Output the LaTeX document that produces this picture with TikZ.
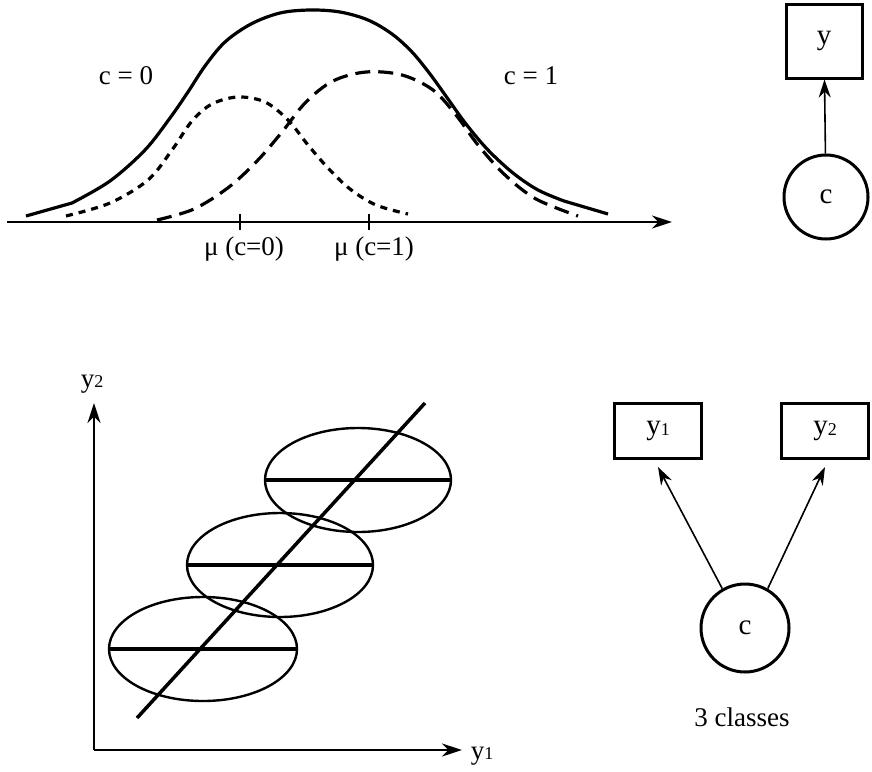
\documentclass[tikz,border=0pt]{standalone}
\usepackage{fontspec}
\setmainfont{Liberation Serif}
\usetikzlibrary{arrows.meta}
\newcommand\mysub[1]{\raisebox{-0.5pt}{\fontsize{18}{18}\selectfont #1}}
\begin{document}
\begin{tikzpicture}[x=1pt,y=-1pt,
  ax/.style={line width=2.4pt},
  curve/.style={line width=3.2pt},
  lbl/.style={font=\fontsize{27}{30}\selectfont, inner sep=0pt},
  box/.style={draw, line width=3pt, inner sep=0pt, font=\fontsize{29}{32}\selectfont},
  circ/.style={draw, circle, line width=3pt, inner sep=0pt, font=\fontsize{29}{32}\selectfont},
  arr/.style={line width=1.6pt, -{Stealth[length=18pt,width=12pt]}},
  axarr/.style={line width=2.4pt, -{Stealth[length=20pt,width=13pt]}}]
\useasboundingbox (0,0) rectangle (872,771);

% ---------- top: mixture of two normals ----------
\coordinate (a0) at (7,222);
\coordinate (a1) at (672,222);
\draw[axarr] (a0) -- (a1);
\draw[ax] (240,214) -- (240,230);
\draw[ax] (369,214) -- (369,230);
\node[lbl] (m0) at (244,249) {μ (c=0)};
\node[lbl] (m1) at (374,249) {μ (c=1)};
\node[lbl] (c0) at (126,76) {c = 0};
\node[lbl] (c1) at (531,76) {c = 1};

\draw[curve] (26,216) -- plot[smooth,tension=0.55] coordinates {
 (72,203) (110,181) (145,150) (170,118) (188,92) (205,66) (225,42)
 (251,24) (280,13) (310,10) (340,12) (368,20) (392,34) (412,52) (430,74)
 (448,99) (466,124) (488,150) (513,173) (538,190) (564,201)} -- (608,214);

\draw[curve, dash pattern=on 7pt off 6pt] plot[smooth,tension=0.55] coordinates {
 (66,216) (110,203) (148,180) (172,150) (192,121) (212,104) (238,97) (265,102)
 (288,120) (308,145) (328,168) (350,189) (376,205) (408,214)};

\draw[curve, dash pattern=on 15pt off 8pt] plot[smooth,tension=0.55] coordinates {
 (157,220) (194,209) (229,187) (258,160) (282,132) (306,102) (333,81) (366,72)
 (402,75) (433,90) (456,115) (478,145) (505,175) (536,199) (578,216)};

% ---------- top right: c -> y ----------
\node[box, minimum width=76pt, minimum height=74pt] (y) at (824,41) {y};
\node[circ, minimum size=84pt] (c) at (826,197) {c};
\draw[arr] (c) -- (y);

% ---------- bottom left: scatter with three classes ----------
\coordinate (o) at (94,750);
\coordinate (ytop) at (94,403);
\coordinate (xend) at (462,750);
\draw[axarr] (o) -- (ytop);
\draw[axarr] (o) -- (xend);
\node[lbl] (y2lab) at (92,384) {y\mysub{2}};
\node[lbl] (y1lab) at (482,756) {y\mysub{1}};

\draw[line width=2.4pt] (358,480) ellipse [x radius=93, y radius=52];
\draw[line width=2.4pt] (280,565) ellipse [x radius=93, y radius=52];
\draw[line width=2.4pt] (203,649) ellipse [x radius=94, y radius=52];
\draw[line width=3.5pt] (265,480) -- (451,480);
\draw[line width=3.5pt] (187,565) -- (373,565);
\draw[line width=3.5pt] (109,649) -- (297,649);
\draw[line width=3.5pt] (137,718) -- (425,403);

% ---------- bottom right: c -> y1, y2 ----------
\node[box, minimum width=87pt, minimum height=55pt] (b1) at (658,431) {y\mysub{1}};
\node[box, minimum width=87pt, minimum height=55pt] (b2) at (825,431) {y\mysub{2}};
\node[circ, minimum size=88pt] (cc) at (745,628) {c};
\node[lbl] (cls) at (742,717) {3 classes};
\draw[arr] (cc.120) -- ([yshift=-7pt]b1.south);
\draw[arr] (cc.60) -- ([yshift=-7pt]b2.south);
\end{tikzpicture}
\end{document}
